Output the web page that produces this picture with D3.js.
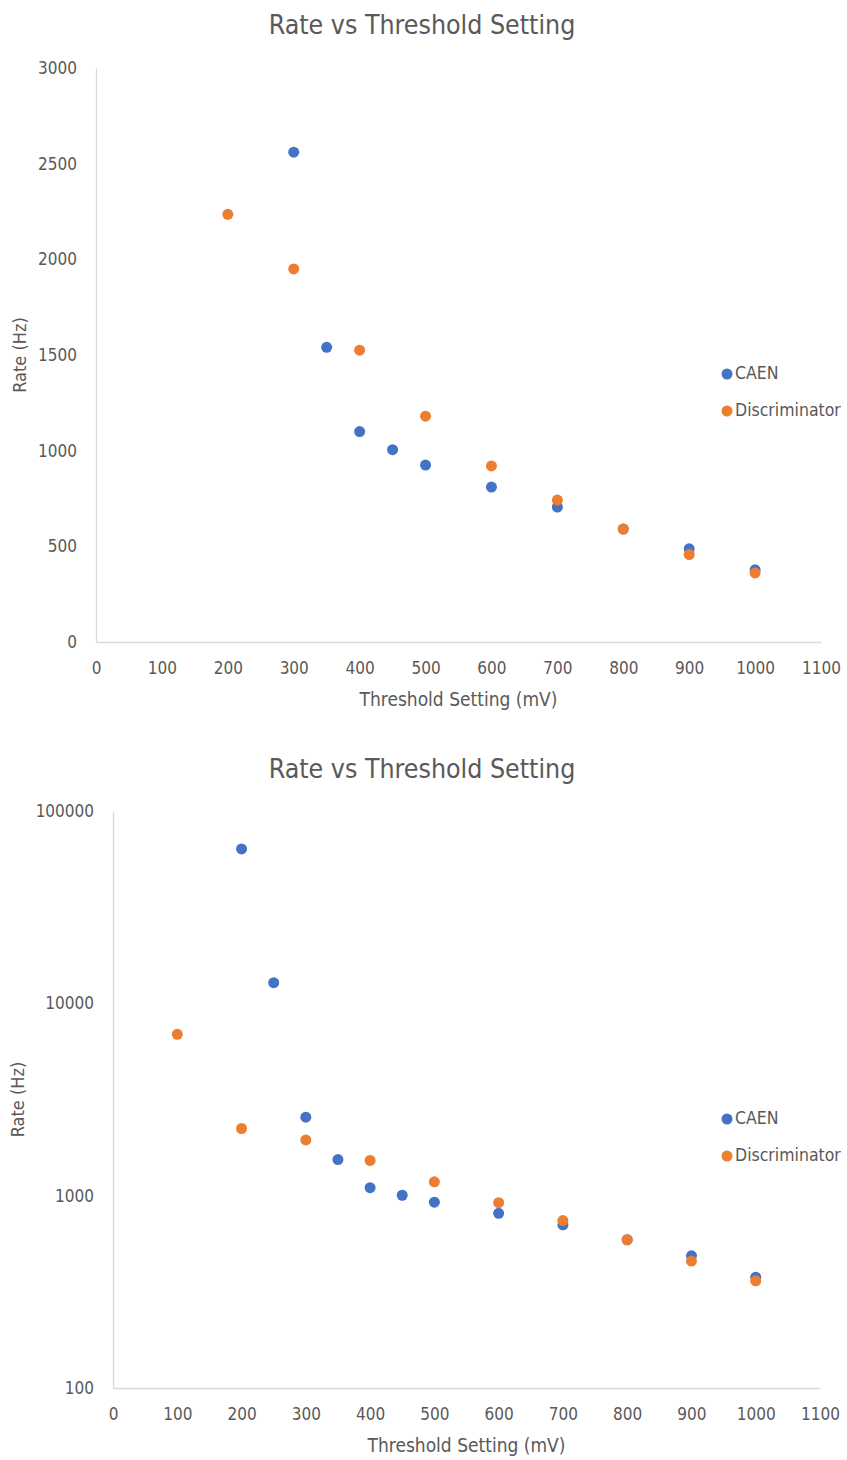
<!DOCTYPE html>
<html><head><meta charset="utf-8">
<script src="https://cdn.jsdelivr.net/npm/d3@7"></script>
<style>
body{margin:0;background:#fff;}
text{font-family:"Liberation Sans Narrow","DejaVu Sans Condensed","Liberation Sans",sans-serif;fill:#595959;}
</style></head>
<body><svg id="c" width="847" height="1460"></svg>
<script>
const caenThreshold = [200,250,300,350,400,450,500,600,700,800,900,1000];
const caenRate      = [63500,12800,2560,1540,1100,1005,925,810,705,590,487,377];
const discThreshold = [100,200,300,400,500,600,700,800,900,1000];
const discRate      = [6900,2235,1950,1525,1180,920,742,590,457,361];
const xTicks = [0,100,200,300,400,500,600,700,800,900,1000,1100];
const yTicksLinear = [0,500,1000,1500,2000,2500,3000];
const yTicksLog = [100,1000,10000,100000];
const seriesNames = ["CAEN","Discriminator"];
const colors = ["#4472C4","#ED7D31"];
const titleText = "Rate vs Threshold Setting";
const xTitle = "Threshold Setting (mV)";
const yTitle = "Rate (Hz)";

const series = [
  caenThreshold.map((t,i)=>({x:t,y:caenRate[i]})),
  discThreshold.map((t,i)=>({x:t,y:discRate[i]}))
];
const svg = d3.select("#c");

function drawChart(cfg){
  const g = svg.append("g");
  const x = d3.scaleLinear().domain([0,1100]).range([cfg.left,cfg.right]);
  const y = (cfg.log ? d3.scaleLog() : d3.scaleLinear()).domain(cfg.yDomain).range([cfg.bottom,cfg.top]);
  g.append("text").attr("x",422).attr("y",cfg.titleY).attr("text-anchor","middle")
    .style("font-size","26.5px").text(titleText);
  const ax = g.append("g").attr("transform",`translate(0,${cfg.bottom})`)
    .call(d3.axisBottom(x).tickValues(xTicks).tickSize(0).tickPadding(20).tickFormat(d3.format("d")));
  const ay = g.append("g").attr("transform",`translate(${cfg.left},0)`)
    .call(d3.axisLeft(y).tickValues(cfg.yTicks).tickSize(0).tickPadding(19).tickFormat(d3.format("d")));
  [ax,ay].forEach(a=>{
    a.select(".domain").attr("stroke","#d9d9d9").attr("stroke-width",1.3);
    a.selectAll("text").style("font-size","17px").attr("fill","#595959");
  });
  g.append("text").attr("x",(cfg.left+cfg.right)/2).attr("y",cfg.bottom+64).attr("text-anchor","middle")
    .style("font-size","19px").text(xTitle);
  g.append("text").attr("transform",`translate(${cfg.yTitleX},${(cfg.top+cfg.bottom)/2}) rotate(-90)`)
    .attr("text-anchor","middle").style("font-size","18px").text(yTitle);
  series.forEach((s,si)=>{
    g.append("g").selectAll("circle")
      .data(s.filter(d=>d.y>=cfg.yDomain[0] && d.y<=cfg.yDomain[1]))
      .join("circle").attr("cx",d=>x(d.x)).attr("cy",d=>y(d.y)).attr("r",5.5)
      .attr("fill",colors[si]);
  });
  seriesNames.forEach((n,i)=>{
    const ly = cfg.legendY + i*37;
    g.append("circle").attr("cx",727).attr("cy",ly).attr("r",5.5).attr("fill",colors[i]);
    g.append("text").attr("x",735).attr("y",ly).attr("dy","0.3em").style("font-size","17.5px").text(n);
  });
}

drawChart({left:96,right:821,top:68,bottom:642,log:false,yDomain:[0,3000],yTicks:yTicksLinear,titleY:34,yTitleX:26,legendY:374});
drawChart({left:113,right:820,top:811,bottom:1388,log:true,yDomain:[100,100000],yTicks:yTicksLog,titleY:778,yTitleX:24,legendY:1119});
</script></body></html>
